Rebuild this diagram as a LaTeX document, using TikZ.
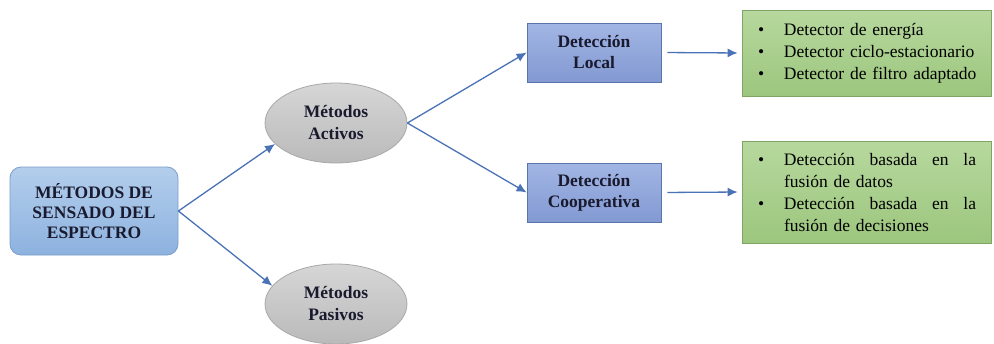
\documentclass[tikz,border=0pt]{standalone}
\usepackage{fontspec}
\setmainfont{Liberation Serif}
\usetikzlibrary{arrows.meta,shapes.geometric}

\definecolor{arrowblue}{HTML}{4A72B6}
\definecolor{mainfillA}{HTML}{B3CEEC}
\definecolor{mainfillB}{HTML}{8DB2DF}
\definecolor{mainline}{HTML}{7A9ECB}
\definecolor{greyA}{HTML}{D6D6D6}
\definecolor{greyB}{HTML}{BABABA}
\definecolor{greyline}{HTML}{A8A8A8}
\definecolor{detA}{HTML}{A2B6E4}
\definecolor{detB}{HTML}{8299D2}
\definecolor{detline}{HTML}{5A74AC}
\definecolor{greenA}{HTML}{B7D89E}
\definecolor{greenB}{HTML}{9CC67D}
\definecolor{greenline}{HTML}{7FA565}
\definecolor{textdark}{HTML}{1A1A2E}

% bullet column for the list boxes
\newcommand\bitem[1]{\makebox[26pt][l]{\textbullet}\mbox{#1}}
% a fully justified line of fixed width
\newcommand\jline[1]{\hbox to 192pt{#1}}

\tikzset{
  mainbox/.style={draw=mainline, line width=0.8pt, rounded corners=11pt,
    top color=mainfillA, bottom color=mainfillB,
    minimum width=168pt, minimum height=88pt, inner sep=0pt,
    align=center, font=\bfseries\fontsize{17.5}{20}\selectfont, text=textdark},
  method/.style={ellipse, draw=greyline, line width=0.8pt,
    top color=greyA, bottom color=greyB,
    minimum width=142pt, minimum height=80pt, inner sep=0pt,
    align=center, font=\bfseries\fontsize{17.5}{22}\selectfont, text=textdark},
  detbox/.style={draw=detline, line width=0.8pt,
    top color=detA, bottom color=detB,
    minimum width=134pt, minimum height=59pt, inner sep=0pt,
    align=center, font=\bfseries\fontsize{17.5}{21}\selectfont, text=textdark},
  listbox/.style={draw=greenline, line width=0.8pt,
    top color=greenA, bottom color=greenB,
    minimum width=249pt, inner xsep=16pt, inner ysep=0pt,
    text width=217pt, align=left,
    font=\fontsize{17.5}{22}\selectfont, text=black},
  link/.style={draw=arrowblue, line width=1.3pt,
    -{Latex[length=10pt,width=9pt]}},
}

\begin{document}
\begin{tikzpicture}[x=1pt,y=-1pt]
  \clip (0,0) rectangle (994,343);
  \fill[white] (0,0) rectangle (994,343);

  % nodes
  \node[mainbox] (main) at (94,211) {MÉTODOS DE\\SENSADO DEL\\ESPECTRO};
  \node[method] (act) at (336,123) {Métodos\\Activos};
  \node[method] (pas) at (336,304) {Métodos\\Pasivos};
  \node[detbox] (loc) at (594,52.5) {Detección\\Local};
  \node[detbox] (coop) at (594,192.5) {Detección\\Cooperativa};
  \node[listbox, minimum height=86pt] (list1) at (866.5,53)
    {\bitem{Detector de energía}\\
     \bitem{Detector ciclo-estacionario}\\
     \bitem{Detector de filtro adaptado}};
  \node[listbox, minimum height=102pt] (list2) at (866.5,192)
    {\bitem{\jline{Detección\hfill basada\hfill en\hfill la}}\\
     \hspace*{26pt}fusión de datos\\
     \bitem{\jline{Detección\hfill basada\hfill en\hfill la}}\\
     \hspace*{26pt}fusión de decisiones};

  % connectors
  \draw[link] (main.east) -- (act.199);
  \draw[link] (main.east) -- (pas.164);
  \draw[link] (act.east) -- (loc.west);
  \draw[link] (act.east) -- (coop.west);
  \draw[link, shorten <=6pt, shorten >=4pt] (loc.east) -- (list1.west);
  \draw[link, shorten <=6pt, shorten >=4pt] (coop.east) -- (list2.west);
\end{tikzpicture}
\end{document}
